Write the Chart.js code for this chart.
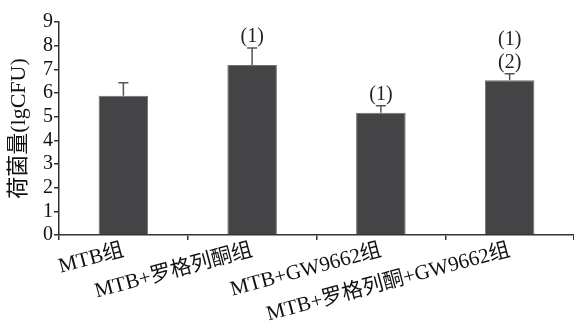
<!DOCTYPE html>
<html>
<head>
<meta charset="utf-8">
<script src="https://cdn.jsdelivr.net/npm/chart.js@4/dist/chart.umd.min.js"></script>
<style>
  html, body { margin: 0; padding: 0; background: #fff; }
  #wrap { width: 574px; height: 321px; }
</style>
</head>
<body>
<div id="wrap"><canvas id="chart"></canvas></div>
<script>
const categories = ['MTB组', 'MTB+罗格列酮组', 'MTB+GW9662组', 'MTB+罗格列酮+GW9662组'];
const means = [5.88, 7.18, 5.17, 6.54];
const errors = [0.55, 0.72, 0.29, 0.27];
const marks = [[], ['(1)'], ['(1)'], ['(1)', '(2)']];
const yTicks = [0, 1, 2, 3, 4, 5, 6, 7, 8, 9];

const serif = '"Liberation Serif", "Noto Sans CJK SC", serif';

// error bars with caps, plus significance marks above them
const errorBars = {
  id: 'errorBars',
  afterDatasetsDraw(chart) {
    const ctx = chart.ctx;
    const meta = chart.getDatasetMeta(0);
    const y = chart.scales.y;
    ctx.save();
    meta.data.forEach((bar, i) => {
      const x = bar.x;
      const top = y.getPixelForValue(means[i] + errors[i]);
      const base = y.getPixelForValue(means[i]);
      ctx.strokeStyle = '#555';
      ctx.lineWidth = 1.5;
      ctx.beginPath();
      ctx.moveTo(x, base);
      ctx.lineTo(x, top);
      ctx.moveTo(x - 5, top);
      ctx.lineTo(x + 5, top);
      ctx.stroke();

      ctx.fillStyle = '#222';
      ctx.font = '20px ' + serif;
      ctx.textAlign = 'center';
      ctx.textBaseline = 'bottom';
      const m = marks[i];
      m.forEach((t, k) => {
        ctx.fillText(t, x, top - 1 - (m.length - 1 - k) * 23);
      });
    });
    ctx.restore();
  }
};

new Chart(document.getElementById('chart'), {
  type: 'bar',
  data: {
    labels: categories,
    datasets: [{
      data: means,
      backgroundColor: '#444446',
      borderColor: '#707070',
      borderWidth: 1,
      categoryPercentage: 1,
      barPercentage: 0.385
    }]
  },
  options: {
    responsive: true,
    maintainAspectRatio: false,
    animation: false,
    layout: { padding: { top: 22, right: 0, left: 0, bottom: 0 } },
    plugins: { legend: { display: false }, tooltip: { enabled: false } },
    scales: {
      x: {
        offset: true,
        grid: { display: true, drawOnChartArea: false, offset: true, tickLength: 5, color: '#333', lineWidth: 1.5 },
        border: { display: true, color: '#333', width: 1.5 },
        ticks: {
          minRotation: 15, maxRotation: 15, padding: -2, autoSkip: false,
          color: '#111', font: { family: serif, size: 21 }
        },
        afterFit(scale) { scale.height = 86; }
      },
      y: {
        min: 0, max: 9,
        afterBuildTicks(scale) { scale.ticks = yTicks.map(v => ({ value: v })); },
        grid: { display: true, drawOnChartArea: false, tickLength: 5, color: '#333', lineWidth: 1.5 },
        border: { display: true, color: '#333', width: 1.5 },
        ticks: { padding: 1, autoSkip: false, color: '#111', font: { family: serif, size: 20 } },
        title: {
          display: true, text: '荷菌量(lgCFU)', color: '#111',
          font: { family: serif, size: 22 }, padding: { top: 6, bottom: 0 }
        },
        afterFit(scale) { scale.width = 59; }
      }
    }
  },
  plugins: [errorBars]
});
</script>
</body>
</html>
